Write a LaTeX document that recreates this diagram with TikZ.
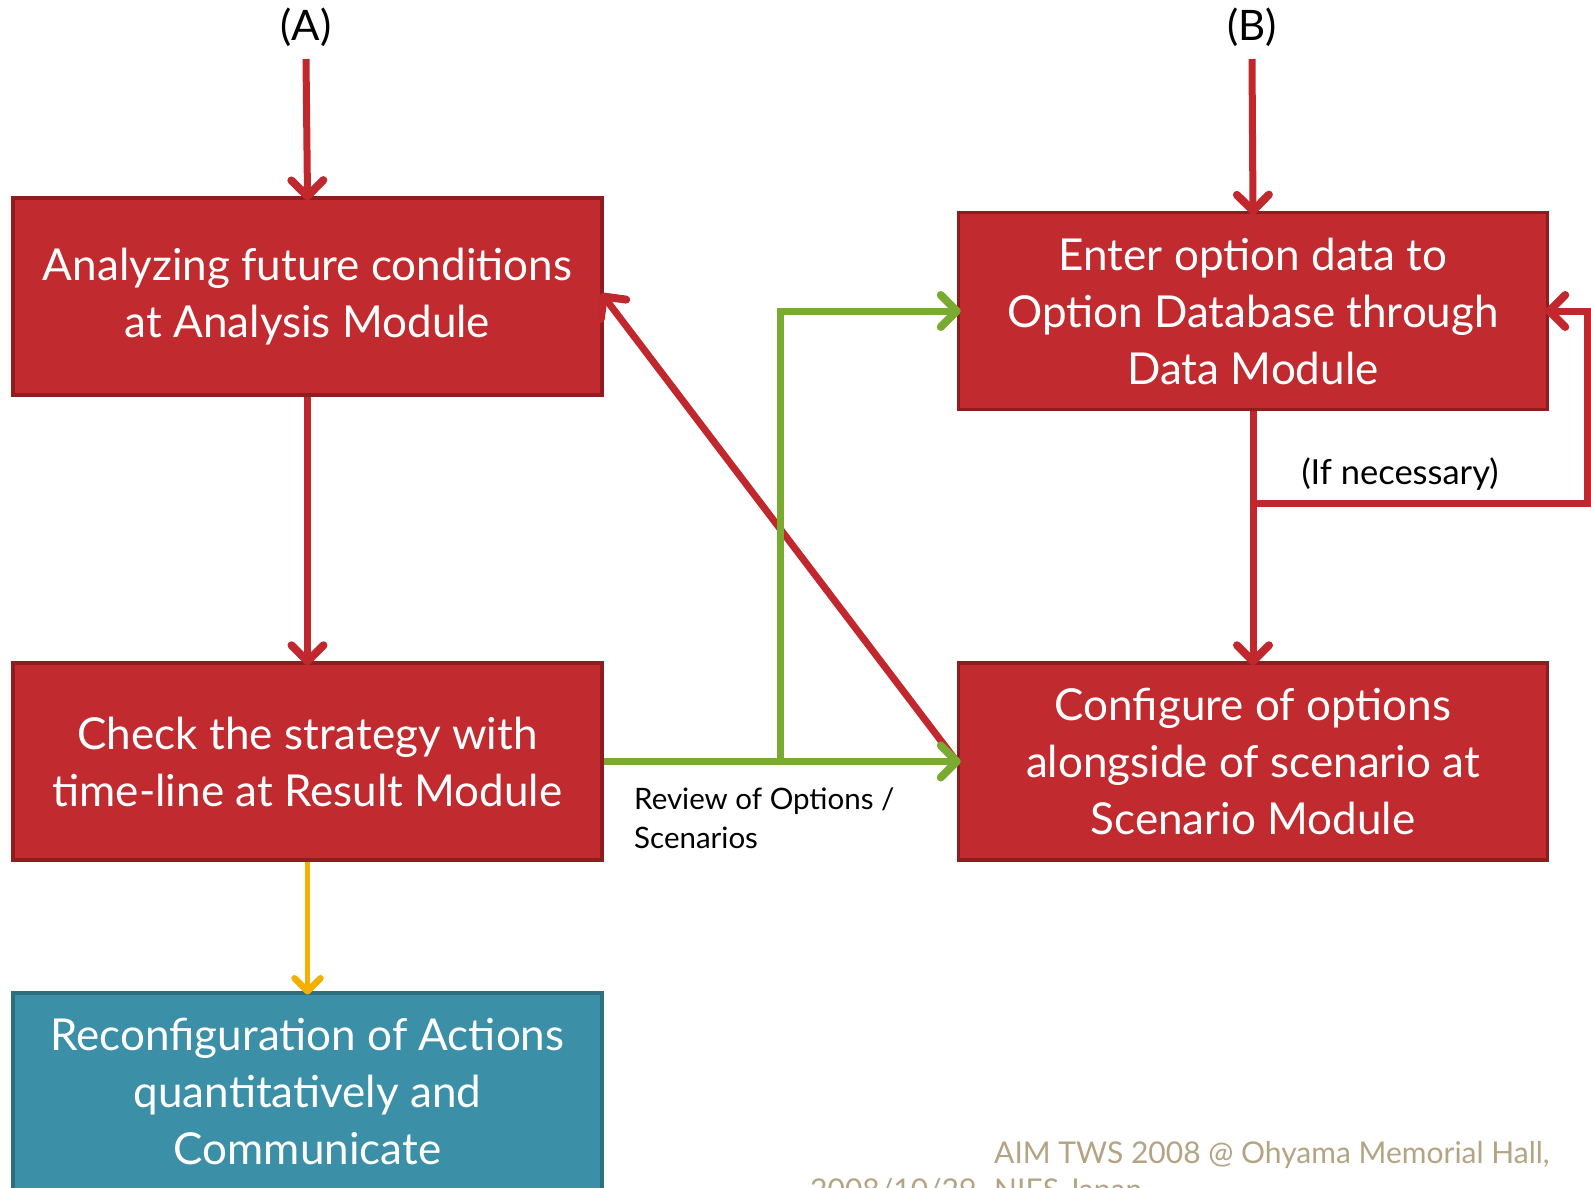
\documentclass[tikz,border=0pt]{standalone}
\usepackage{fontspec}
\setmainfont{Lato}
\usetikzlibrary{arrows.meta,calc,decorations.markings}
\definecolor{boxred}{HTML}{C12B2F}
\definecolor{boxredline}{HTML}{8F1D20}
\definecolor{linered}{HTML}{C0282D}
\definecolor{boxteal}{HTML}{3B90A7}
\definecolor{boxtealline}{HTML}{2D6E80}
\definecolor{flowgreen}{HTML}{7AAB31}
\definecolor{flowyellow}{HTML}{F4B000}
\definecolor{footertan}{HTML}{B4A483}
\definecolor{labelbrown}{HTML}{6B2A14}
\tikzset{
  stepbox/.style={rectangle, fill=boxred, draw=boxredline, line width=3.5pt,
    minimum width=589pt, minimum height=197pt, inner sep=0pt,
    text=white, align=center, font=\fontsize{44}{57}\selectfont},
  endbox/.style={stepbox, fill=boxteal, draw=boxtealline},
  % open chevron head placed at the end of a connector
  chevron/.style n args={3}{postaction={decorate, decoration={markings,
    mark=at position 1 with {\draw[#1, line width=#2, line cap=round, line join=round]
      (-#3,#3) -- (0pt,0pt) -- (-#3,-#3);}}}},
  redflow/.style={draw=linered, line width=7pt, chevron={linered}{8pt}{16pt}},
  greenflow/.style={draw=flowgreen, line width=7pt, chevron={flowgreen}{8pt}{16pt}},
  yellowflow/.style={draw=flowyellow, line width=5.5pt, chevron={flowyellow}{6.5pt}{13pt}},
  tag/.style={inner sep=0pt, font=\fontsize{42}{46}\selectfont},
  note/.style={inner sep=0pt, align=left, font=\fontsize{34.5}{40}\selectfont},
  footer/.style={inner sep=0pt, anchor=base west, text=footertan,
    font=\fontsize{30}{36}\selectfont},
}
\begin{document}
\begin{tikzpicture}[x=1pt, y=-1pt]
\useasboundingbox (0,0) rectangle (1591,1187);

% column labels
\node[tag] (labA) at (306,27) {(A)};
\node[tag] (labB) at (1252,27) {(B)};
\node[tag, text=labelbrown, anchor=base] (labTop) at (1239,-10) {(\hspace{40pt})};
\coordinate (startA) at (306,59);
\coordinate (startB) at (1252,59);

% process boxes
\node[stepbox] (A1) at (307.5,296.5) {Analyzing future conditions\\at Analysis Module};
\node[stepbox] (A2) at (307.5,761.5) {Check the strategy with\\time-line at Result Module};
\node[endbox]  (A3) at (307.5,1091.5) {Reconfiguration of Actions\\quantitatively and\\Communicate};
\node[stepbox] (B1) at (1253,311) {Enter option data to\\Option Database through\\Data Module};
\node[stepbox] (B2) at (1253,761.5) {Configure of options\\alongside of scenario at\\Scenario Module};

% left column flow
\draw[redflow] (startA) -- (A1.north);
\draw[redflow] (A1.south) -- (A2.north);
\draw[yellowflow] (A2.south) -- (A3.north);

% right column flow with optional loop back
\draw[redflow] (startB) -- (B1.north);
\draw[redflow] (B1.south) -- (B2.north);
\coordinate (loopL) at (1252,503);
\coordinate (loopR) at (1587,503);
\draw[redflow] (loopL) -- (loopR) |- (B1.east);
\node[note, anchor=base] (ifnec) at (1400,484) {(If necessary)};

% cross links
\draw[redflow] (B2.west) -- (A1.east);
\coordinate (split) at (780,761.5);
\draw[greenflow] (A2.east) -- (B2.west);
\draw[greenflow] (split) |- (B1.west);
\node[note, anchor=north west, font=\fontsize{29.5}{38.5}\selectfont] (review) at (634,788)
  {Review of Options /\\Scenarios};

% footer
\node[footer] (foot1) at (994,1163) {AIM TWS 2008 @ Ohyama Memorial Hall,};
\node[footer] (foot2) at (994,1200) {NIES Japan};
\node[footer] (foot3) at (810,1200) {2008/10/29};
\end{tikzpicture}
\end{document}
